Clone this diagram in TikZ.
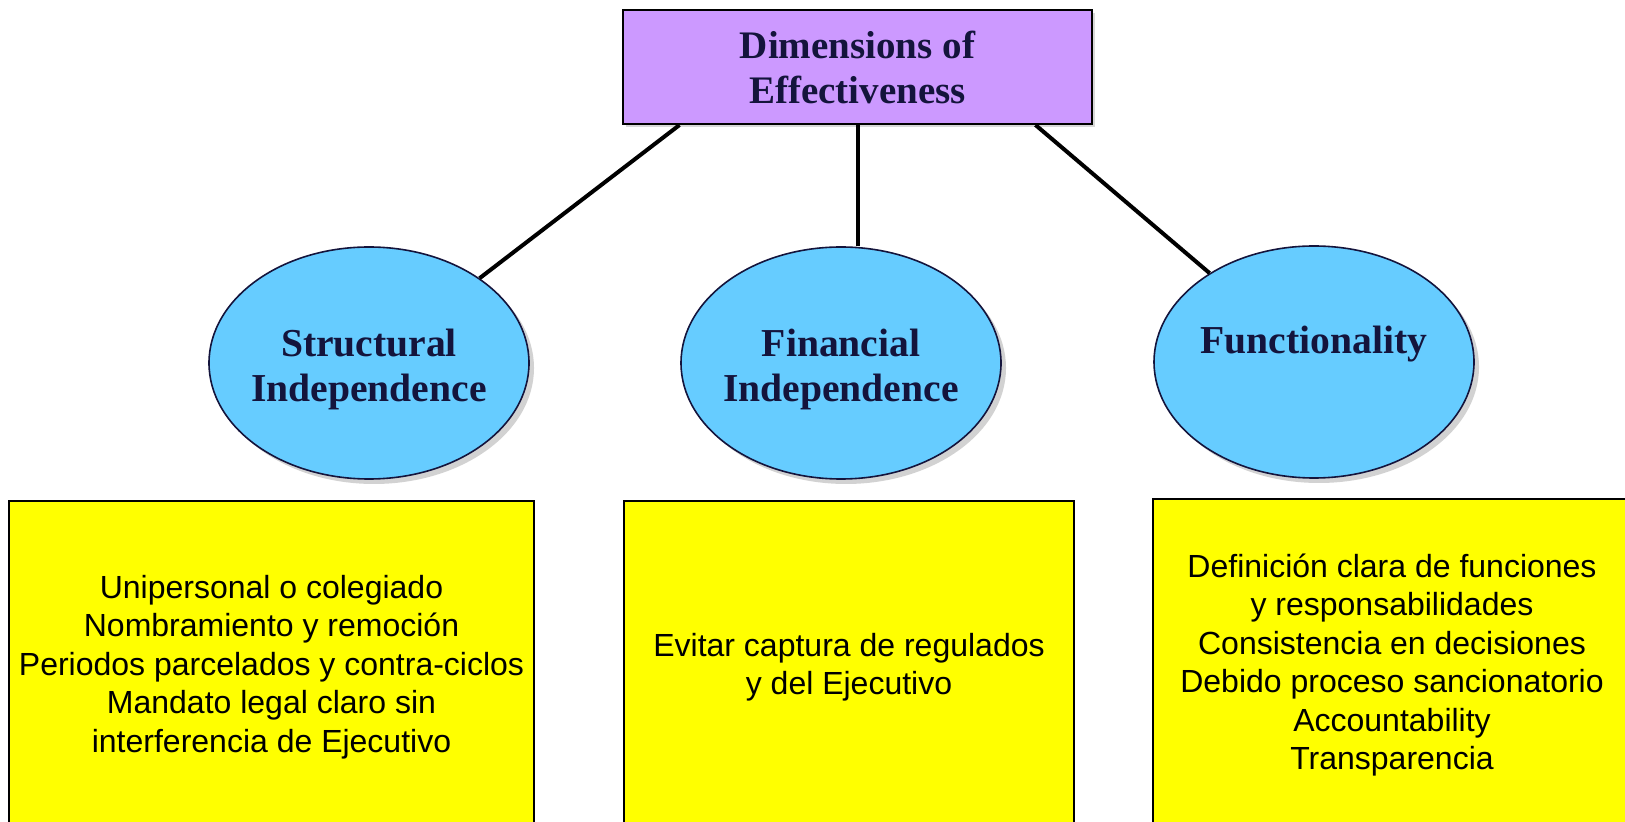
\documentclass[tikz,border=0pt]{standalone}
\usepackage{fontspec}
\setmainfont{Liberation Serif}
\newfontfamily\arialfont{Liberation Sans}
\usetikzlibrary{shapes.geometric,shadows}
\definecolor{dimviolet}{RGB}{204,153,255}
\definecolor{dimblue}{RGB}{102,204,255}
\definecolor{dimnavy}{RGB}{20,20,60}
\definecolor{dimyellow}{RGB}{255,255,0}
\newcommand{\dimstrut}{\rule{0pt}{20.5pt}}
\begin{document}
\begin{tikzpicture}[
  x=0.5pt, y=-0.5pt,
  topnode/.style={rectangle, draw=black, fill=dimviolet, line width=1pt, minimum width=234.5pt, minimum height=57pt, align=center, text=dimnavy, font=\fontsize{19.5}{22.5}\selectfont\bfseries, drop shadow={shadow xshift=1.5pt, shadow yshift=-1.5pt, fill=gray!60}},
  dimnode/.style={ellipse, draw=dimnavy, fill=dimblue, line width=0.8pt, minimum width=160pt, minimum height=116pt, inner xsep=-10pt, inner ysep=0pt, align=center, text=dimnavy, font=\fontsize{19.8}{22.5}\selectfont\bfseries, drop shadow={shadow xshift=2.5pt, shadow yshift=-2.5pt, fill=gray!70}},
  itembox/.style={rectangle, draw=black, fill=dimyellow, line width=1pt, minimum height=166pt, align=center, font=\arialfont\fontsize{16}{19.2}\selectfont},
  link/.style={line width=2pt, black}
]
\useasboundingbox (0,0) rectangle (1625,822);
\clip (0,0) rectangle (1625,822);

% Top node
\node[topnode] (dims) at (857.5,67) {Dimensions of\\Effectiveness};

% Dimensions
\node[dimnode] (struct) at (369,363) {\dimstrut Structural\\Independence};
\node[dimnode] (fin) at (841,363) {\dimstrut Financial\\Independence};
\node[dimnode] (func) at (1314,362) {Functionality\\\mbox{}};

\draw[link] ([xshift=-89pt]dims.south) -- (struct);
\draw[link] (dims.south) -- (dims.south |- fin.north);
\draw[link] ([xshift=89pt]dims.south) -- (func);

% Items
\node[itembox, minimum width=262.5pt] (struct_items) at (271.5,667) {Unipersonal o colegiado\\Nombramiento y remoción\\Periodos parcelados y contra-ciclos\\Mandato legal claro sin\\interferencia de Ejecutivo};
\node[itembox, minimum width=225pt] (fin_items) at (849,667) {Evitar captura de regulados\\y del Ejecutivo};
\node[itembox, minimum width=239pt] (func_items) at (1392,665) {Definición clara de funciones\\y responsabilidades\\Consistencia en decisiones\\Debido proceso sancionatorio\\Accountability\\Transparencia};

\end{tikzpicture}
\end{document}
